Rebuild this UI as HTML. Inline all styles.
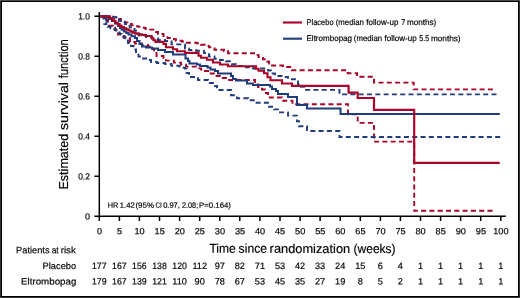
<!DOCTYPE html>
<html lang="en">
<head>
<meta charset="utf-8">
<title>Kaplan-Meier survival: Placebo vs Eltrombopag</title>
<style>
html,body{margin:0;padding:0;background:#fff;}
body{width:520px;height:298px;overflow:hidden;}
svg{display:block;}
text{font-family:"Liberation Sans",sans-serif;fill:#000;stroke:#000;stroke-width:0.18px;text-rendering:geometricPrecision;}
</style>
</head>
<body>
<svg width="520" height="298" viewBox="0 0 520 298">
<rect x="0" y="0" width="520" height="298" fill="#fff"/>
<path d="M0 0H520V298H0Z M1 1V297H519V1Z" fill="#333" fill-rule="evenodd"/>
<path d="M1 1H519V297H1Z M2 2V296H518V2Z" fill="#000" fill-rule="evenodd"/>
<rect x="0" y="0" width="520" height="1" fill="#4a4a4a"/>
<g fill="none" stroke-width="1.9" stroke-dasharray="5 3.3" stroke-linejoin="miter">
<path stroke="#A90428" d="M492.9 89.4H413.7V82.6H374.0V76.8H357.0V73.2H347.6V70.2H292.0V67.0H283.0V65.5H272.0V63.5H269.0V61.5H267.0V59.3H263.0V57.0H258.5V55.0H256.5V53.3H228.0V51.0H224.0V49.8H214.5V47.3H209.0V46.0H206.0V44.7H201.0V43.2H197.0V42.8H185.0V41.5H182.0V40.8H176.0V39.3H174.0V38.0H167.5V36.0H163.5V34.0H158.0V32.0H156.0V29.6H149.0V28.7H145.3V27.8H142.0V26.9H138.5V26.2H135.0V25.4H131.8V24.0H128.5V22.4H125.0V20.5H121.0V19.0H117.0V17.5H113.0V16.4H99.5"/>
<path stroke="#A90428" d="M492.5 210.8H414.2V141.6H374.0V122.9H357.7V114.2H348.0V104.3H292.5V100.7H282.0V97.5H268.0V93.0H265.0V89.5H262.0V87.0H258.0V84.5H255.0V80.0H227.0V78.0H220.0V76.0H214.0V73.5H209.0V71.0H204.0V69.5H201.0V68.4H198.0V66.6H186.0V64.6H181.0V62.6H174.0V60.6H166.0V58.0H163.5V56.0H156.5V52.0H154.0V49.0H151.0V46.5H148.0V45.0H142.0V43.5H135.0V42.0H130.0V38.2H125.0V36.5H121.5V34.5H118.0V32.0H116.5V30.0H115.0V27.5H113.0V25.8H108.0V20.0H106.5V18.0H105.0V16.4H99.5"/>
<path stroke="#1F3D7C" d="M496.5 94.4H339.5V89.9H305.0V86.7H301.0V84.0H298.0V79.2H288.0V77.0H284.0V76.0H275.0V73.5H271.0V70.5H268.0V68.5H253.0V67.4H246.0V66.0H236.0V64.3H232.0V61.3H226.0V60.0H220.0V58.8H214.5V56.5H209.0V53.0H204.0V50.7H196.0V50.0H189.0V48.5H185.0V44.4H171.5V41.0H165.0V40.0H158.0V38.5H152.0V37.0H146.0V35.5H139.0V33.5H136.0V30.8H134.5V29.0H132.0V27.4H129.8V25.7H127.5V24.0H125.0V22.3H122.0V20.7H119.0V18.5H116.5V17.2H112.0V16.4H99.5"/>
<path stroke="#1F3D7C" d="M500.2 137.0H339.5V131.0H307.0V126.3H299.0V121.3H297.0V115.6H288.0V112.4H279.0V109.4H274.0V106.8H269.0V102.7H255.0V100.3H248.0V98.3H237.0V95.2H231.0V90.0H217.0V86.0H215.0V83.0H208.0V80.0H198.0V77.0H189.0V73.0H186.5V68.6H185.0V67.7H179.5V65.7H171.5V64.0H165.0V63.0H157.0V62.0H151.0V60.0H148.0V58.5H142.0V56.5H138.5V53.0H136.0V49.5H133.5V46.0H131.0V43.0H128.0V40.5H125.7V37.8H123.7V36.0H121.7V34.0H119.7V32.5H118.0V30.5H116.0V29.2H113.0V28.2H110.5V26.8H107.8V24.1H106.5"/>
</g>
<path d="M102.4 18.5H106.4V24.1H103.4" fill="none" stroke="#1F3D7C" stroke-width="1.8"/>
<g fill="none" stroke-width="2.15" stroke-linejoin="miter">
<path stroke="#1F3D7C" stroke-width="2" d="M99.5 16.4H106.0V17.5H109.0V19.0H112.0V21.0H115.0V23.5H118.0V26.0H120.0V28.0H121.7V29.7H124.0V31.5H126.3V33.0H128.5V34.5H131.5V36.3H135.0V38.0H137.0V41.0H139.5V44.0H142.0V46.5H146.0V47.5H152.0V48.6H158.0V49.9H165.0V51.9H173.0V54.6H185.5V58.6H188.0V61.1H189.5V63.6H197.0V64.4H200.0V66.1H207.5V67.5H210.5V69.5H215.0V71.1H218.0V73.5H231.0V76.1H233.0V79.1H236.0V80.6H247.0V83.4H253.0V85.1H270.0V86.4H272.0V89.1H276.0V91.1H278.0V94.1H288.0V96.9H297.0V105.1H307.0V108.6H340.5V114.1H499.8"/>
<path stroke="#A90428" d="M99.5 16.4H109.8V18.0H111.8V19.6H113.8V21.0H115.5V22.5H117.5V24.0H119.5V25.6H121.5V27.0H124.0V28.3H126.3V29.4H128.5V30.5H130.7V31.6H133.0V32.7H135.5V33.6H138.5V34.4H142.0V35.0H146.0V36.0H151.5V38.2H153.5V40.2H155.5V41.9H163.5V43.9H166.0V47.2H173.0V49.2H177.0V51.2H185.0V52.9H198.5V55.7H201.0V57.7H207.0V59.7H213.0V62.5H220.0V64.5H228.0V66.2H256.0V68.7H258.5V70.7H264.0V73.2H267.5V77.2H270.5V80.2H282.0V83.5H292.0V85.9H348.6V92.6H357.7V98.0H374.0V109.9H414.2V162.8H499.8"/>
</g>
<g fill="none" stroke="#000" stroke-width="1.5">
<path d="M99.3 12V216.3"/>
<path d="M94.4 216.3H505.8"/>
<path d="M99.3 216.3V221M119.4 216.3V221M139.4 216.3V221M159.5 216.3V221M179.6 216.3V221M199.7 216.3V221M219.8 216.3V221M239.8 216.3V221M259.9 216.3V221M280.0 216.3V221M300.1 216.3V221M320.1 216.3V221M340.2 216.3V221M360.3 216.3V221M380.4 216.3V221M400.4 216.3V221M420.5 216.3V221M440.6 216.3V221M460.6 216.3V221M480.7 216.3V221M500.8 216.3V221"/>
<path d="M94.4 16.3H99.3M94.4 56.3H99.3M94.4 96.3H99.3M94.4 136.3H99.3M94.4 176.3H99.3"/>
</g>
<g font-size="9" text-anchor="end">
<text x="89.9" y="19.6" transform="rotate(0.05 89.9 19.6)" textLength="11.7" lengthAdjust="spacingAndGlyphs">1.0</text>
<text x="89.9" y="59.6" transform="rotate(0.05 89.9 59.6)" textLength="11.7" lengthAdjust="spacingAndGlyphs">0.8</text>
<text x="89.9" y="99.6" transform="rotate(0.05 89.9 99.6)" textLength="11.7" lengthAdjust="spacingAndGlyphs">0.6</text>
<text x="89.9" y="139.6" transform="rotate(0.05 89.9 139.6)" textLength="11.7" lengthAdjust="spacingAndGlyphs">0.4</text>
<text x="89.9" y="179.6" transform="rotate(0.05 89.9 179.6)" textLength="11.7" lengthAdjust="spacingAndGlyphs">0.2</text>
<text x="89.9" y="219.6" transform="rotate(0.05 89.9 219.6)">0</text>
</g>
<g font-size="9" text-anchor="middle">
<text x="99.5" y="234.35" transform="rotate(0.05 99.5 234.35)">0</text>
<text x="119.5" y="234.35" transform="rotate(0.05 119.5 234.35)">5</text>
<text x="139.6" y="234.35" transform="rotate(0.05 139.6 234.35)" textLength="10.2" lengthAdjust="spacingAndGlyphs">10</text>
<text x="159.7" y="234.35" transform="rotate(0.05 159.7 234.35)" textLength="10.2" lengthAdjust="spacingAndGlyphs">15</text>
<text x="179.8" y="234.35" transform="rotate(0.05 179.8 234.35)" textLength="10.2" lengthAdjust="spacingAndGlyphs">20</text>
<text x="199.8" y="234.35" transform="rotate(0.05 199.8 234.35)" textLength="10.2" lengthAdjust="spacingAndGlyphs">25</text>
<text x="219.9" y="234.35" transform="rotate(0.05 219.9 234.35)" textLength="10.2" lengthAdjust="spacingAndGlyphs">30</text>
<text x="240.0" y="234.35" transform="rotate(0.05 240.0 234.35)" textLength="10.2" lengthAdjust="spacingAndGlyphs">35</text>
<text x="260.0" y="234.35" transform="rotate(0.05 260.0 234.35)" textLength="10.2" lengthAdjust="spacingAndGlyphs">40</text>
<text x="280.1" y="234.35" transform="rotate(0.05 280.1 234.35)" textLength="10.2" lengthAdjust="spacingAndGlyphs">45</text>
<text x="300.2" y="234.35" transform="rotate(0.05 300.2 234.35)" textLength="10.2" lengthAdjust="spacingAndGlyphs">50</text>
<text x="320.3" y="234.35" transform="rotate(0.05 320.3 234.35)" textLength="10.2" lengthAdjust="spacingAndGlyphs">55</text>
<text x="340.3" y="234.35" transform="rotate(0.05 340.3 234.35)" textLength="10.2" lengthAdjust="spacingAndGlyphs">60</text>
<text x="360.4" y="234.35" transform="rotate(0.05 360.4 234.35)" textLength="10.2" lengthAdjust="spacingAndGlyphs">65</text>
<text x="380.5" y="234.35" transform="rotate(0.05 380.5 234.35)" textLength="10.2" lengthAdjust="spacingAndGlyphs">70</text>
<text x="400.6" y="234.35" transform="rotate(0.05 400.6 234.35)" textLength="10.2" lengthAdjust="spacingAndGlyphs">75</text>
<text x="420.6" y="234.35" transform="rotate(0.05 420.6 234.35)" textLength="10.2" lengthAdjust="spacingAndGlyphs">80</text>
<text x="440.7" y="234.35" transform="rotate(0.05 440.7 234.35)" textLength="10.2" lengthAdjust="spacingAndGlyphs">85</text>
<text x="460.8" y="234.35" transform="rotate(0.05 460.8 234.35)" textLength="10.2" lengthAdjust="spacingAndGlyphs">90</text>
<text x="480.9" y="234.35" transform="rotate(0.05 480.9 234.35)" textLength="10.2" lengthAdjust="spacingAndGlyphs">95</text>
<text x="500.9" y="234.35" transform="rotate(0.05 500.9 234.35)" textLength="15.2" lengthAdjust="spacingAndGlyphs">100</text>
</g>
<text y="0" font-size="13.0" transform="translate(68.3 188.7) rotate(-90)"><tspan x="-0.89" textLength="55.94" lengthAdjust="spacingAndGlyphs">Estimated</tspan> <tspan x="58.66" textLength="47.94" lengthAdjust="spacingAndGlyphs">survival</tspan> <tspan x="110.38" textLength="39.17" lengthAdjust="spacingAndGlyphs">function</tspan></text>
<text y="252.9" font-size="12.8" transform="rotate(0.04 302.2 252.9)"><tspan x="209.38" textLength="26.28" lengthAdjust="spacingAndGlyphs">Time</tspan> <tspan x="238.62" textLength="28.38" lengthAdjust="spacingAndGlyphs">since</tspan> <tspan x="269.62" textLength="80.55" lengthAdjust="spacingAndGlyphs">randomization</tspan> <tspan x="353.60" textLength="41.98" lengthAdjust="spacingAndGlyphs">(weeks)</tspan></text>
<path d="M283 22.5H302.1" stroke="#A90428" stroke-width="2.1" fill="none"/>
<path d="M283 38.7H302.1" stroke="#1F3D7C" stroke-width="2.1" fill="none"/>
<text y="24.95" font-size="8.3" transform="rotate(0.04 371.5 24.95)"><tspan x="306.53" textLength="27.03" lengthAdjust="spacingAndGlyphs">Placebo</tspan> <tspan x="335.76" textLength="28.18" lengthAdjust="spacingAndGlyphs">(median</tspan> <tspan x="366.33" textLength="32.06" lengthAdjust="spacingAndGlyphs">follow-up</tspan> <tspan x="401.29" textLength="4.03" lengthAdjust="spacingAndGlyphs">7</tspan> <tspan x="407.00" textLength="29.33" lengthAdjust="spacingAndGlyphs">months)</tspan></text>
<text y="41.1" font-size="8.3" transform="rotate(0.04 383.6 41.1)"><tspan x="306.49" textLength="45.57" lengthAdjust="spacingAndGlyphs">Eltrombopag</tspan> <tspan x="353.86" textLength="28.28" lengthAdjust="spacingAndGlyphs">(median</tspan> <tspan x="384.53" textLength="32.16" lengthAdjust="spacingAndGlyphs">follow-up</tspan> <tspan x="419.37" textLength="9.66" lengthAdjust="spacingAndGlyphs">5.5</tspan> <tspan x="430.89" textLength="29.75" lengthAdjust="spacingAndGlyphs">months)</tspan></text>
<text y="207.8" font-size="7.6" transform="rotate(0.04 169.3 207.8)"><tspan x="107.65" textLength="10.54" lengthAdjust="spacingAndGlyphs">HR</tspan> <tspan x="119.77" textLength="14.97" lengthAdjust="spacingAndGlyphs">1.42</tspan> <tspan x="135.45" textLength="18.57" lengthAdjust="spacingAndGlyphs">(95%</tspan> <tspan x="155.54" textLength="6.30" lengthAdjust="spacingAndGlyphs">CI</tspan> <tspan x="163.15" textLength="16.77" lengthAdjust="spacingAndGlyphs">0.97,</tspan> <tspan x="181.88" textLength="16.32" lengthAdjust="spacingAndGlyphs">2.08;</tspan> <tspan x="199.11" textLength="31.82" lengthAdjust="spacingAndGlyphs">P=0.164)</tspan></text>
<text y="253.3" font-size="9.2" transform="rotate(0.04 46.3 253.3)"><tspan x="16.09" textLength="33.50" lengthAdjust="spacingAndGlyphs">Patients</tspan> <tspan x="51.70" textLength="6.93" lengthAdjust="spacingAndGlyphs">at</tspan> <tspan x="60.72" textLength="15.03" lengthAdjust="spacingAndGlyphs">risk</tspan></text>
<text y="268.9" font-size="9.2" transform="rotate(0.04 59.6 268.9)"><tspan x="42.58" textLength="33.55" lengthAdjust="spacingAndGlyphs">Placebo</tspan></text>
<text y="284.6" font-size="9.2" transform="rotate(0.04 48.8 284.6)"><tspan x="21.05" textLength="55.32" lengthAdjust="spacingAndGlyphs">Eltrombopag</tspan></text>
<g font-size="9.2" text-anchor="middle">
<text x="99.3" y="268.95" transform="rotate(0.05 99.3 268.95)" textLength="14.6" lengthAdjust="spacingAndGlyphs">177</text>
<text x="119.4" y="268.95" transform="rotate(0.05 119.4 268.95)" textLength="14.6" lengthAdjust="spacingAndGlyphs">167</text>
<text x="139.4" y="268.95" transform="rotate(0.05 139.4 268.95)" textLength="14.6" lengthAdjust="spacingAndGlyphs">156</text>
<text x="159.5" y="268.95" transform="rotate(0.05 159.5 268.95)" textLength="14.6" lengthAdjust="spacingAndGlyphs">138</text>
<text x="179.6" y="268.95" transform="rotate(0.05 179.6 268.95)" textLength="14.6" lengthAdjust="spacingAndGlyphs">120</text>
<text x="199.7" y="268.95" transform="rotate(0.05 199.7 268.95)" textLength="14.6" lengthAdjust="spacingAndGlyphs">112</text>
<text x="219.8" y="268.95" transform="rotate(0.05 219.8 268.95)" textLength="10.2" lengthAdjust="spacingAndGlyphs">97</text>
<text x="239.8" y="268.95" transform="rotate(0.05 239.8 268.95)" textLength="10.2" lengthAdjust="spacingAndGlyphs">82</text>
<text x="259.9" y="268.95" transform="rotate(0.05 259.9 268.95)" textLength="10.2" lengthAdjust="spacingAndGlyphs">71</text>
<text x="280.0" y="268.95" transform="rotate(0.05 280.0 268.95)" textLength="10.2" lengthAdjust="spacingAndGlyphs">53</text>
<text x="300.1" y="268.95" transform="rotate(0.05 300.1 268.95)" textLength="10.2" lengthAdjust="spacingAndGlyphs">42</text>
<text x="320.1" y="268.95" transform="rotate(0.05 320.1 268.95)" textLength="10.2" lengthAdjust="spacingAndGlyphs">33</text>
<text x="340.2" y="268.95" transform="rotate(0.05 340.2 268.95)" textLength="10.2" lengthAdjust="spacingAndGlyphs">24</text>
<text x="360.3" y="268.95" transform="rotate(0.05 360.3 268.95)" textLength="10.2" lengthAdjust="spacingAndGlyphs">15</text>
<text x="380.4" y="268.95" transform="rotate(0.05 380.4 268.95)">6</text>
<text x="400.4" y="268.95" transform="rotate(0.05 400.4 268.95)">4</text>
<text x="420.5" y="268.95" transform="rotate(0.05 420.5 268.95)">1</text>
<text x="440.6" y="268.95" transform="rotate(0.05 440.6 268.95)">1</text>
<text x="460.6" y="268.95" transform="rotate(0.05 460.6 268.95)">1</text>
<text x="480.7" y="268.95" transform="rotate(0.05 480.7 268.95)">1</text>
<text x="500.8" y="268.95" transform="rotate(0.05 500.8 268.95)">1</text>
<text x="99.3" y="284.55" transform="rotate(0.05 99.3 284.55)" textLength="14.6" lengthAdjust="spacingAndGlyphs">179</text>
<text x="119.4" y="284.55" transform="rotate(0.05 119.4 284.55)" textLength="14.6" lengthAdjust="spacingAndGlyphs">167</text>
<text x="139.4" y="284.55" transform="rotate(0.05 139.4 284.55)" textLength="14.6" lengthAdjust="spacingAndGlyphs">139</text>
<text x="159.5" y="284.55" transform="rotate(0.05 159.5 284.55)" textLength="14.6" lengthAdjust="spacingAndGlyphs">121</text>
<text x="179.6" y="284.55" transform="rotate(0.05 179.6 284.55)" textLength="14.6" lengthAdjust="spacingAndGlyphs">110</text>
<text x="199.7" y="284.55" transform="rotate(0.05 199.7 284.55)" textLength="10.2" lengthAdjust="spacingAndGlyphs">90</text>
<text x="219.8" y="284.55" transform="rotate(0.05 219.8 284.55)" textLength="10.2" lengthAdjust="spacingAndGlyphs">78</text>
<text x="239.8" y="284.55" transform="rotate(0.05 239.8 284.55)" textLength="10.2" lengthAdjust="spacingAndGlyphs">67</text>
<text x="259.9" y="284.55" transform="rotate(0.05 259.9 284.55)" textLength="10.2" lengthAdjust="spacingAndGlyphs">53</text>
<text x="280.0" y="284.55" transform="rotate(0.05 280.0 284.55)" textLength="10.2" lengthAdjust="spacingAndGlyphs">45</text>
<text x="300.1" y="284.55" transform="rotate(0.05 300.1 284.55)" textLength="10.2" lengthAdjust="spacingAndGlyphs">35</text>
<text x="320.1" y="284.55" transform="rotate(0.05 320.1 284.55)" textLength="10.2" lengthAdjust="spacingAndGlyphs">27</text>
<text x="340.2" y="284.55" transform="rotate(0.05 340.2 284.55)" textLength="10.2" lengthAdjust="spacingAndGlyphs">19</text>
<text x="360.3" y="284.55" transform="rotate(0.05 360.3 284.55)">8</text>
<text x="380.4" y="284.55" transform="rotate(0.05 380.4 284.55)">5</text>
<text x="400.4" y="284.55" transform="rotate(0.05 400.4 284.55)">2</text>
<text x="420.5" y="284.55" transform="rotate(0.05 420.5 284.55)">1</text>
<text x="440.6" y="284.55" transform="rotate(0.05 440.6 284.55)">1</text>
<text x="460.6" y="284.55" transform="rotate(0.05 460.6 284.55)">1</text>
<text x="480.7" y="284.55" transform="rotate(0.05 480.7 284.55)">1</text>
<text x="500.8" y="284.55" transform="rotate(0.05 500.8 284.55)">1</text>
</g>
</svg>
</body>
</html>
